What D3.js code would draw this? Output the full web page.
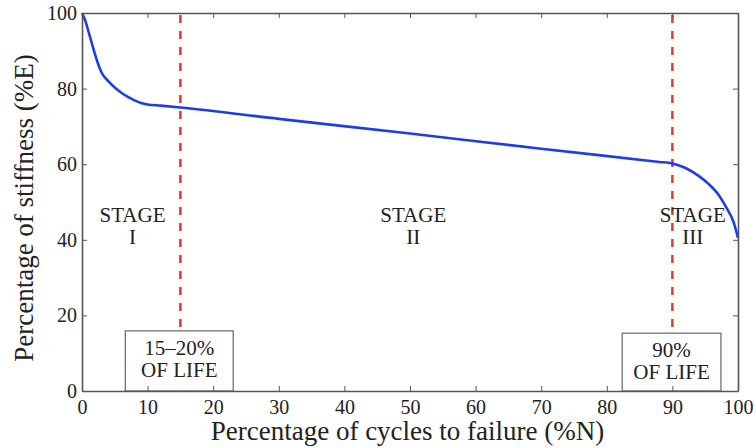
<!DOCTYPE html>
<html>
<head>
<meta charset="utf-8">
<script src="https://cdn.jsdelivr.net/npm/d3@7"></script>
<style>
  html, body { margin: 0; padding: 0; background: #fff; }
  svg { display: block; }
</style>
</head>
<body>
<svg id="chart" width="755" height="448"></svg>
<script>
// Stiffness degradation over fatigue life
const cycles = [0, 0.5, 1, 1.5, 2, 2.5, 3, 4, 5, 6, 7, 8, 9, 10, 12, 15, 30, 50, 70, 88, 90, 92, 94, 95.5, 97, 98.3, 99.3, 100];
const stiffness = [100, 98, 95, 92, 89, 86.3, 84.2, 82, 80.3, 78.9, 77.8, 76.9, 76.2, 75.8, 75.5, 75.0, 72.0, 68.1, 64.1, 60.6, 60.2, 59.0, 56.9, 54.8, 52.0, 48.3, 44.8, 40.5];

const xTicks = [0, 10, 20, 30, 40, 50, 60, 70, 80, 90, 100];
const yTicks = [0, 20, 40, 60, 80, 100];

const stageLines = [15, 90];
const stageLabels = [
  { x: 7.7, lines: ["STAGE", "I"] },
  { x: 50.5, lines: ["STAGE", "II"] },
  { x: 93.1, lines: ["STAGE", "III"] }
];
const lifeBoxes = [
  { x0: 6.6, x1: 23.05, y1: 15.9, lines: ["15\u201320%", "OF LIFE"] },
  { x0: 82.35, x1: 97.4, y1: 15.3, lines: ["90%", "OF LIFE"] }
];

const FONT = "'Liberation Serif', 'Times New Roman', Tinos, serif";
const ink = "#222";

const svg = d3.select("#chart");
const plot = { left: 82, right: 738, top: 13, bottom: 391 };

const x = d3.scaleLinear().domain([0, 100]).range([plot.left, plot.right]);
const y = d3.scaleLinear().domain([0, 100]).range([plot.bottom, plot.top]);

const axisColor = "#555";
const tickLen = 5;

function label(sel, px, py, str, size) {
  return sel.append("text").attr("x", px).attr("y", py)
    .attr("text-anchor", "middle").attr("font-size", size)
    .attr("fill", ink).style("font-family", FONT).text(str);
}

// stage boundaries
stageLines.forEach(v => {
  svg.append("line")
    .attr("x1", x(v)).attr("x2", x(v))
    .attr("y1", plot.top + 2).attr("y2", 327)
    .attr("stroke", "#d9432f").attr("stroke-width", 2.6)
    .attr("stroke-dasharray", "8,8");
});

// life annotation boxes
lifeBoxes.forEach(b => {
  const yTop = y(b.y1);
  svg.append("rect")
    .attr("x", x(b.x0)).attr("y", yTop)
    .attr("width", x(b.x1) - x(b.x0)).attr("height", plot.bottom - yTop)
    .attr("fill", "#fff").attr("stroke", "#666").attr("stroke-width", 1.2);
  const cx = (x(b.x0) + x(b.x1)) / 2;
  b.lines.forEach((t, i) => label(svg, cx, yTop + 24 + i * 22, t, 21));
});

// stage labels
stageLabels.forEach(s => {
  s.lines.forEach((t, i) => label(svg, x(s.x), 221.5 + i * 22.5, t, 21));
});

// curve
const line = d3.line().x((d, i) => x(cycles[i])).y(d => y(d)).curve(d3.curveMonotoneX);
svg.append("path").datum(stiffness)
  .attr("d", line)
  .attr("fill", "none").attr("stroke", "#1f3de6").attr("stroke-width", 2.6)
  .attr("stroke-linejoin", "round");

// axes with inward ticks, boxed frame
const gx = svg.append("g").attr("transform", `translate(0,${plot.bottom})`)
  .call(d3.axisBottom(x).tickValues(xTicks).tickSizeInner(-tickLen).tickSizeOuter(0).tickPadding(9));
const gy = svg.append("g").attr("transform", `translate(${plot.left},0)`)
  .call(d3.axisLeft(y).tickValues(yTicks).tickSizeInner(-tickLen).tickSizeOuter(0).tickPadding(5));
const gt = svg.append("g").attr("transform", `translate(0,${plot.top})`)
  .call(d3.axisTop(x).tickValues(xTicks).tickSizeInner(-tickLen).tickSizeOuter(0).tickFormat(""));
const gr = svg.append("g").attr("transform", `translate(${plot.right},0)`)
  .call(d3.axisRight(y).tickValues(yTicks).tickSizeInner(-tickLen).tickSizeOuter(0).tickFormat(""));

[gx, gy, gt, gr].forEach(g => {
  g.select(".domain").attr("stroke", axisColor).attr("stroke-width", 1.6);
  g.selectAll(".tick line").attr("stroke", axisColor).attr("stroke-width", 1);
  g.selectAll(".tick text").style("font-family", FONT).attr("font-size", 20).attr("fill", ink);
});

// axis titles
label(svg, 407.5, 440, "Percentage of cycles to failure (%N)", 27);
svg.append("text").attr("transform", "translate(33,208) rotate(-90)")
  .attr("text-anchor", "middle").attr("font-size", 27)
  .attr("fill", ink).style("font-family", FONT)
  .text("Percentage of stiffness (%E)");
</script>
</body>
</html>
